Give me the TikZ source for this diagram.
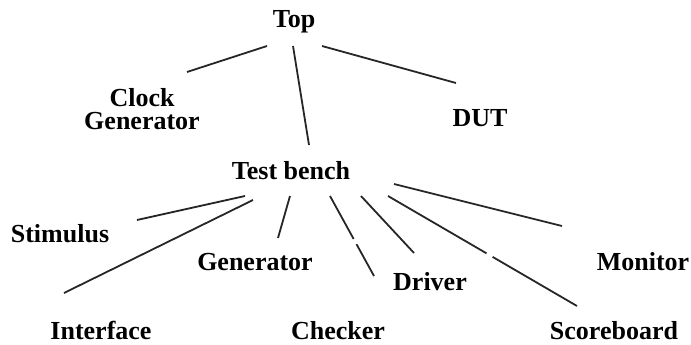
\documentclass[tikz,border=0pt]{standalone}
\usepackage{fontspec}
\setmainfont{Liberation Serif}
\tikzset{
  lbl/.style={inner sep=0pt, anchor=base, font=\fontsize{26}{21}\selectfont\bfseries},
  lnk/.style={line width=1.8pt, black!85},
}
\begin{document}
\begin{tikzpicture}[x=1pt,y=-1pt]
	\useasboundingbox (0,0) rectangle (691,345);
	%%  labels  %%%%%%%%
	\node[lbl] (top) at (294,28) {Top};
	\node[lbl, anchor=north, align=center, font=\fontsize{26}{23}\selectfont\bfseries] (clk) at (142,88) {Clock\\Generator};
	\node[lbl] (dut) at (480,126) {DUT};
	\node[lbl] (tb) at (291,179) {Test bench};
	\node[lbl] (stim) at (60,242) {Stimulus};
	\node[lbl] (gen) at (255,270) {Generator};
	\node[lbl] (drv) at (430,290) {Driver};
	\node[lbl] (mon) at (643,270) {Monitor};
	\node[lbl] (intf) at (101,339) {Interface};
	\node[lbl] (chk) at (338,339) {Checker};
	\node[lbl] (sb) at (614,339) {Scoreboard};
	%%  Top links  %%%%%%%%
	\draw[lnk] ([shift={(-27,18)}]top.base) -- ([shift={(45,-16)}]clk.north);
	\draw[lnk] ([shift={(-1,18)}]top.base) -- ([shift={(18,-34)}]tb.base);
	\draw[lnk] ([shift={(28,18)}]top.base) -- ([shift={(-24,-43)}]dut.base);
	%%  Test bench links  %%%%%%%%
	\draw[lnk] ([shift={(-46,17)}]tb.base) -- ([shift={(77,-22)}]stim.base);
	\draw[lnk] ([shift={(-38,21)}]tb.base) -- ([shift={(-37,-46)}]intf.base);
	\draw[lnk] ([shift={(-1,17)}]tb.base) -- ([shift={(23,-32)}]gen.base);
	\draw[lnk, dash pattern=on 49pt off 6pt on 60pt] ([shift={(39,17)}]tb.base) -- ([shift={(36,-63)}]chk.base);
	\draw[lnk] ([shift={(70,17)}]tb.base) -- ([shift={(-16,-37)}]drv.base);
	\draw[lnk, dash pattern=on 114pt off 7pt on 120pt] ([shift={(97,17)}]tb.base) -- ([shift={(-37,-33)}]sb.base);
	\draw[lnk] ([shift={(103,5)}]tb.base) -- ([shift={(-81,-44)}]mon.base);
	%%%%%%%%%%%%%%%
\end{tikzpicture}
\end{document}
